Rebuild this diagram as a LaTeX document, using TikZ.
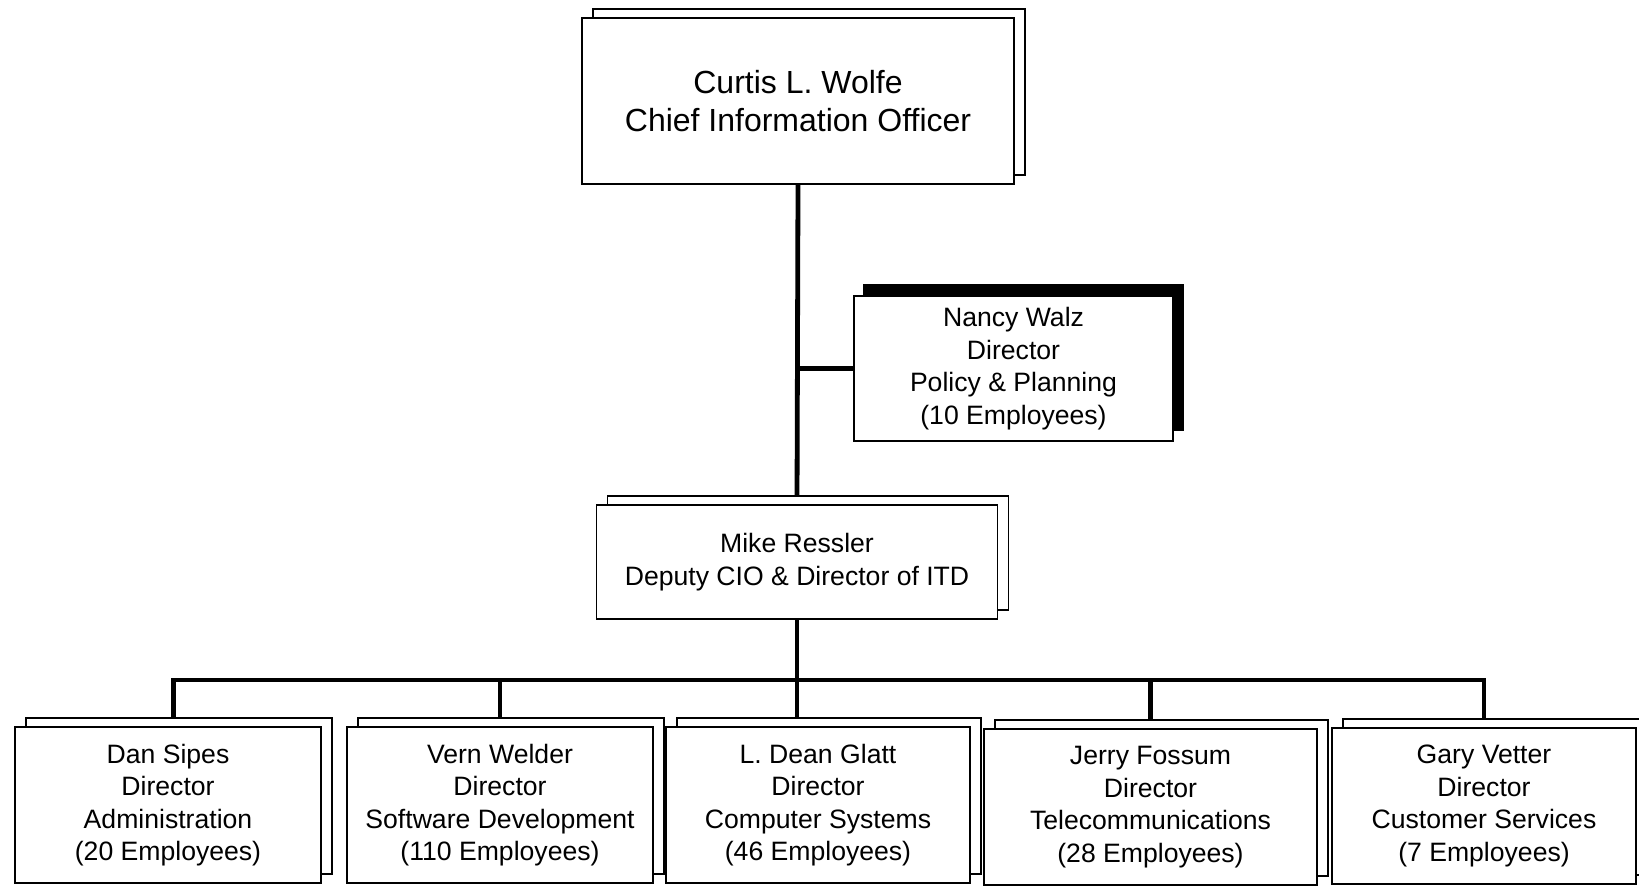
\documentclass[tikz,border=0pt]{standalone}
\usepackage{fontspec}
\setmainfont{Liberation Sans}
\usetikzlibrary{shadows,backgrounds}
\begin{document}
\begin{tikzpicture}[x=0.5pt,y=-0.5pt,
  box/.style={draw,fill=white,line width=0.8pt,align=center,inner sep=0pt,font=\fontsize{13.3}{16.25}\selectfont},
  backcopy/.style={copy shadow={shadow xshift=5.5pt,shadow yshift=4.5pt,draw,fill=white,line width=0.8pt}},
  kid/.style={box,backcopy,minimum height=78pt},
  link/.style={line width=2.4pt}]
\useasboundingbox (0,0) rectangle (1639,885);
\node[box,backcopy,minimum width=216pt,minimum height=83pt,font=\fontsize{16}{19.25}\selectfont] (cio) at (798,101) {Curtis L. Wolfe\\Chief Information Officer};
\node[box,minimum width=159.5pt,minimum height=72.5pt,copy shadow={shadow xshift=5pt,shadow yshift=5.5pt,fill=black}] (walz) at (1013.5,368.5) {Nancy Walz\\Director\\Policy \& Planning\\(10 Employees)};
\node[box,backcopy,minimum width=200.5pt,minimum height=57pt] (deputy) at (797,562) {Mike Ressler\\Deputy CIO \& Director of ITD};
\node[kid,minimum width=153pt] (admin) at (168,805) {Dan Sipes\\Director\\Administration\\(20 Employees)};
\node[kid,minimum width=153pt] (soft) at (500,805) {Vern Welder\\Director\\Software Development\\(110 Employees)};
\node[kid,minimum width=152pt] (comp) at (818,805) {L. Dean Glatt\\Director\\Computer Systems\\(46 Employees)};
\node[kid,minimum width=166.5pt] (tele) at (1150.5,807) {Jerry Fossum\\Director\\Telecommunications\\(28 Employees)};
\node[kid,minimum width=152pt] (cust) at (1484,806) {Gary Vetter\\Director\\Customer Services\\(7 Employees)};
\coordinate (bus) at (797,680);
\begin{scope}[on background layer]
\draw[link] (cio.south) -- (deputy.north);
\draw[link] (walz.west) -- (walz.west -| cio.south);
\draw[link] (deputy.south) -- (comp.north -| deputy.south);
\draw[link] ([xshift=2.75pt]admin.north) |- (cust.north |- bus) -- (cust.north);
\draw[link] (soft.north) -- (soft.north |- bus);
\draw[link] (tele.north) -- (tele.north |- bus);
\end{scope}
\end{tikzpicture}
\end{document}
